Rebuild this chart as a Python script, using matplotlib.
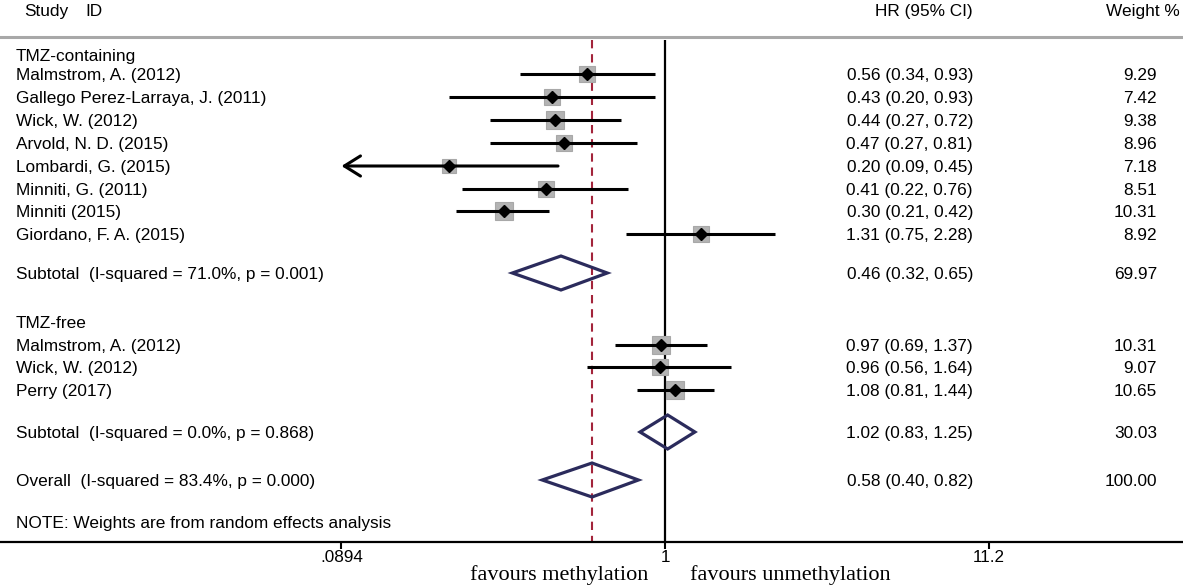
import matplotlib
matplotlib.use("Agg")
import matplotlib.pyplot as plt
import matplotlib.transforms as mtransforms
from matplotlib.patches import Polygon
from matplotlib.ticker import NullLocator
import numpy as np

plt.rcParams['font.family'] = ['Liberation Sans', 'DejaVu Sans']

# --- data -------------------------------------------------------------
group1_label = "TMZ-containing"
group1_studies = ["Malmstrom, A. (2012)", "Gallego Perez-Larraya, J. (2011)",
                  "Wick, W. (2012)", "Arvold, N. D. (2015)", "Lombardi, G. (2015)",
                  "Minniti, G. (2011)", "Minniti (2015)", "Giordano, F. A. (2015)"]
group1_hr = [0.56, 0.43, 0.44, 0.47, 0.20, 0.41, 0.30, 1.31]
group1_lo = [0.34, 0.20, 0.27, 0.27, 0.09, 0.22, 0.21, 0.75]
group1_hi = [0.93, 0.93, 0.72, 0.81, 0.45, 0.76, 0.42, 2.28]
group1_w = [9.29, 7.42, 9.38, 8.96, 7.18, 8.51, 10.31, 8.92]
sub1_label = "Subtotal  (I-squared = 71.0%, p = 0.001)"
sub1 = (0.46, 0.32, 0.65, 69.97)

group2_label = "TMZ-free"
group2_studies = ["Malmstrom, A. (2012)", "Wick, W. (2012)", "Perry (2017)"]
group2_hr = [0.97, 0.96, 1.08]
group2_lo = [0.69, 0.56, 0.81]
group2_hi = [1.37, 1.64, 1.44]
group2_w = [10.31, 9.07, 10.65]
sub2_label = "Subtotal  (I-squared = 0.0%, p = 0.868)"
sub2 = (1.02, 0.83, 1.25, 30.03)

overall_label = "Overall  (I-squared = 83.4%, p = 0.000)"
overall = (0.58, 0.40, 0.82, 100.00)
note = "NOTE: Weights are from random effects analysis"

xticks = [0.0894, 1, 11.2]
xticklabels = [".0894", "1", "11.2"]

# --- layout (pixel rows, figure is 1183 x 587) -------------------------
W, H = 1183, 587
y_head = 10
y_rule = 37
y_g1 = 55
y_s1 = [74, 97, 120, 143, 166, 189, 211, 234]
y_sub1 = 273
y_g2 = 322
y_s2 = [345, 367, 390]
y_sub2 = 432
y_over = 480
y_note = 522
y_axis = 542

# x: log scale, 1 at px 665, ~308.5 px per decade
px_one, px_dec = 665, 308.5
xmin = 10 ** (-px_one / px_dec)
xmax = 10 ** ((W - px_one) / px_dec)

fig = plt.figure(figsize=(W / 100, H / 100), dpi=100)
ax = fig.add_axes([0, 0, 1, 1])
ax.set_xscale('log')
ax.set_xlim(xmin, xmax)
ax.set_ylim(H, 0)
for s in ['top', 'left', 'right']:
    ax.spines[s].set_visible(False)
ax.spines['bottom'].set_position(('data', y_axis))
ax.spines['bottom'].set_linewidth(1.6)
ax.set_yticks([])
ax.set_xticks(xticks)
ax.set_xticklabels(xticklabels)
ax.xaxis.set_minor_locator(NullLocator())
ax.tick_params(axis='x', direction='out', length=5, width=1.5, pad=1, labelsize=12.3)

tr = mtransforms.blended_transform_factory(ax.transAxes, ax.transData)
fs = 12.4

def txt(px, y, s, ha='left', **kw):
    ax.text(px / W, y, s, transform=tr, ha=ha, va='center_baseline', fontsize=fs, **kw)

# header
txt(24, y_head, "Study")
txt(85, y_head, "ID")
txt(973, y_head, "HR (95% CI)", ha='right')
txt(1180, y_head, "Weight %", ha='right')
ax.axhline(y_rule, color='#a8a8a8', lw=2.2)

# reference lines
ax.vlines(1, y_rule + 3, y_axis, color='black', lw=1.6, zorder=1)
ax.vlines(overall[0], y_rule + 3, y_axis, color='#a3243b', lw=1.5,
          linestyles=(0, (4, 2.8)), zorder=1)

def study_rows(labels, hr, lo, hi, w, ys):
    for lab, h, l, u, wt, y in zip(labels, hr, lo, hi, w, ys):
        txt(16, y, lab)
        txt(973, y, f"{h:.2f} ({l:.2f}, {u:.2f})", ha='right')
        txt(1157, y, f"{wt:.2f}", ha='right')
        if l <= xticks[0] * 1.01:
            ax.annotate('', xy=(xticks[0], y), xytext=(u, y),
                        arrowprops=dict(arrowstyle='->,head_length=0.4,head_width=0.25',
                                        lw=2.2, color='black', mutation_scale=29,
                                        shrinkA=0, shrinkB=0), zorder=3)
        else:
            ax.plot([l, u], [y, y], color='black', lw=2.2, solid_capstyle='butt', zorder=3)
        ax.plot(h, y, marker='s', ms=4.0 * np.sqrt(wt), mfc='#b3b3b3',
                mec='#a8a8a8', mew=0.8, zorder=2)
        ax.plot(h, y, marker='D', ms=6, color='black', zorder=4)

def diamond(vals, y, label):
    h, l, u, wt = vals
    txt(16, y, label)
    txt(973, y, f"{h:.2f} ({l:.2f}, {u:.2f})", ha='right')
    txt(1157, y, f"{wt:.2f}", ha='right')
    ax.add_patch(Polygon([(l, y), (h, y - 17), (u, y), (h, y + 17)], closed=True,
                         fill=False, edgecolor='#2b2b5c', lw=2.3, zorder=5))

txt(16, y_g1, group1_label)
study_rows(group1_studies, group1_hr, group1_lo, group1_hi, group1_w, y_s1)
diamond(sub1, y_sub1, sub1_label)

txt(16, y_g2, group2_label)
study_rows(group2_studies, group2_hr, group2_lo, group2_hi, group2_w, y_s2)
diamond(sub2, y_sub2, sub2_label)

diamond(overall, y_over, overall_label)
txt(16, y_note, note)

# direction labels
ax.text(648 / W, 573, "favours methylation", transform=tr, ha='right', va='center_baseline',
        fontsize=16, family=['Liberation Serif', 'DejaVu Serif'])
ax.text(690 / W, 573, "favours unmethylation", transform=tr, ha='left', va='center_baseline',
        fontsize=16, family=['Liberation Serif', 'DejaVu Serif'])

fig.savefig("out.png", dpi=100)
